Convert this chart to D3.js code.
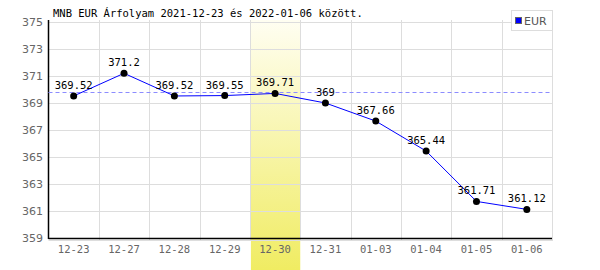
<!DOCTYPE html>
<html lang="hu">
<head>
<meta charset="utf-8">
<title>MNB EUR árfolyam</title>
<script src="https://d3js.org/d3.v7.min.js"></script>
<style>
  body { margin: 0; background: #fff; }
  text { font-family: "DejaVu Sans Mono", monospace; }
</style>
</head>
<body>
<script>
// data
var dates = ["12-23", "12-27", "12-28", "12-29", "12-30", "12-31", "01-03", "01-04", "01-05", "01-06"];
var rates = [369.52, 371.2, 369.52, 369.55, 369.71, 369, 367.66, 365.44, 361.71, 361.12];
var yTicks = [359, 361, 363, 365, 367, 369, 371, 373, 375];
var highlightDay = "12-30";
var seriesName = "EUR";
var title = "MNB EUR Árfolyam 2021-12-23 és 2022-01-06 között.";

var w = 600, h = 270;
// plot area (note: "top" is reserved on window, so use pTop etc.)
var pLeft = 48.5, pRight = 552, pTop = 22, pBottom = 238;

var svg = d3.select("body").append("svg")
    .attr("width", w).attr("height", h);

var x = d3.scaleBand().domain(dates).range([pLeft, pRight]);
var y = d3.scaleLinear().domain([359, 375]).range([pBottom, pTop]);

// yellow gradient for the highlighted day
var grad = svg.append("defs").append("linearGradient")
    .attr("id", "hl").attr("x1", 0).attr("y1", 0).attr("x2", 0).attr("y2", 1);
grad.append("stop").attr("offset", "0%").attr("stop-color", "#fffef2");
grad.append("stop").attr("offset", "100%").attr("stop-color", "#f0ec62");

svg.append("rect")
    .attr("x", x(highlightDay) + 1)
    .attr("y", pTop - 2)
    .attr("width", x.bandwidth() - 1)
    .attr("height", h - pTop + 2)
    .attr("fill", "url(#hl)");

// grid
svg.append("g").selectAll("line").data(yTicks.slice(1)).join("line")
    .attr("x1", pLeft).attr("x2", pRight)
    .attr("y1", function(d) { return Math.round(y(d)) + 0.5; })
    .attr("y2", function(d) { return Math.round(y(d)) + 0.5; })
    .attr("stroke", "#dddddd");
svg.append("line")
    .attr("x1", pLeft).attr("x2", pRight)
    .attr("y1", pBottom + 2.5).attr("y2", pBottom + 2.5)
    .attr("stroke", "#dddddd");
svg.append("g").selectAll("line").data(dates).join("line")
    .attr("x1", function(d) { return Math.round(x(d) + x.bandwidth()) + 0.5; })
    .attr("x2", function(d) { return Math.round(x(d) + x.bandwidth()) + 0.5; })
    .attr("y1", pTop - 2).attr("y2", pBottom + 3)
    .attr("stroke", "#dddddd");

// axes
svg.append("line")
    .attr("x1", pLeft).attr("x2", pLeft)
    .attr("y1", pTop - 2).attr("y2", pBottom + 1)
    .attr("stroke", "#000").attr("stroke-width", 1.5);
svg.append("line")
    .attr("x1", pLeft).attr("x2", pRight)
    .attr("y1", pBottom + 0.5).attr("y2", pBottom + 0.5)
    .attr("stroke", "#000").attr("stroke-width", 1.5);

svg.append("g").selectAll("text").data(yTicks).join("text")
    .attr("x", 43)
    .attr("y", function(d) { return y(d) + 4; })
    .attr("text-anchor", "end")
    .attr("font-size", 11)
    .style("font-family", "'DejaVu Sans', sans-serif")
    .attr("fill", "#666")
    .text(function(d) { return d; });

svg.append("g").selectAll("text").data(dates).join("text")
    .attr("x", function(d) { return x(d) + x.bandwidth() / 2; })
    .attr("y", pBottom + 15)
    .attr("text-anchor", "middle")
    .attr("font-size", 10.5)
    .attr("fill", "#666")
    .text(function(d) { return d; });

// reference line at highlighted day's value
var refVal = rates[dates.indexOf(highlightDay)];
svg.append("line")
    .attr("x1", pLeft).attr("x2", pRight)
    .attr("y1", Math.round(y(refVal)) - 0.5).attr("y2", Math.round(y(refVal)) - 0.5)
    .attr("stroke", "#8c8cff")
    .attr("stroke-dasharray", "4,3");

// series
var pts = dates.map(function(d, i) { return { d: d, v: rates[i] }; });
var line = d3.line()
    .x(function(p) { return x(p.d) + x.bandwidth() / 2; })
    .y(function(p) { return y(p.v); });

svg.append("path")
    .datum(pts)
    .attr("d", line)
    .attr("fill", "none")
    .attr("stroke", "#0000ff")
    .attr("stroke-width", 1);

svg.append("g").selectAll("circle").data(pts).join("circle")
    .attr("cx", function(p) { return x(p.d) + x.bandwidth() / 2; })
    .attr("cy", function(p) { return y(p.v); })
    .attr("r", 3.5)
    .attr("fill", "#000");

svg.append("g").selectAll("text").data(pts).join("text")
    .attr("x", function(p) { return x(p.d) + x.bandwidth() / 2; })
    .attr("y", function(p) { return y(p.v) - 7; })
    .attr("text-anchor", "middle")
    .attr("font-size", 10.5)
    .attr("fill", "#000")
    .text(function(p) { return p.v; });

// title
svg.append("text")
    .attr("x", 53).attr("y", 17)
    .attr("font-size", 10.5)
    .attr("fill", "#000")
    .text(title);

// legend
var lg = svg.append("g");
lg.append("rect")
    .attr("x", 511.5).attr("y", 10.5)
    .attr("width", 41).attr("height", 20)
    .attr("fill", "#fff").attr("stroke", "#dddddd");
lg.append("rect")
    .attr("x", 515.5).attr("y", 17.5)
    .attr("width", 6).attr("height", 6)
    .attr("fill", "#0000ff").attr("stroke", "#666");
lg.append("text")
    .attr("x", 524).attr("y", 24.5)
    .attr("font-size", 11)
    .style("font-family", "'DejaVu Sans', sans-serif")
    .attr("fill", "#555")
    .text(seriesName);
</script>
</body>
</html>
